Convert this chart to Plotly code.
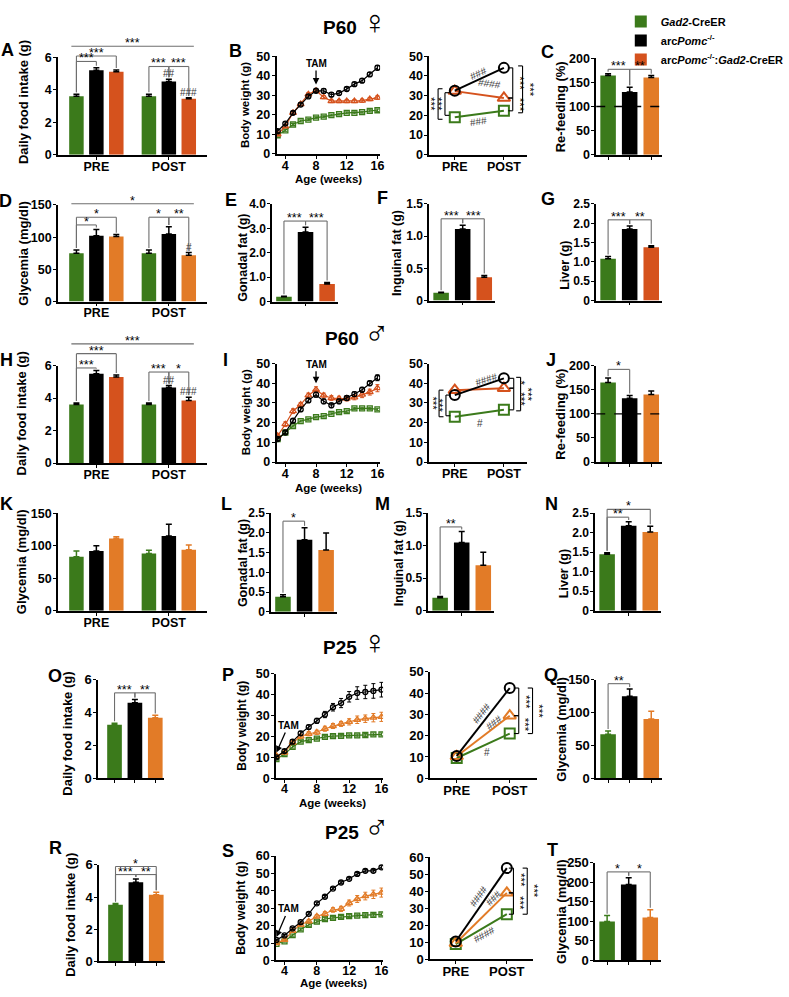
import plotly.graph_objects as go

# ======================= DATA =======================
genotypes = ["<i>Gad2</i>-CreER", "arc<i>Pomc</i><sup>-/-</sup>",
             "arc<i>Pomc</i><sup>-/-</sup>:<i>Gad2</i>-CreER"]
phases = ["PRE", "POST"]
weeks = [3, 4, 5, 6, 7, 8, 9, 10, 11, 12, 13, 14, 15, 16]
week_ticks = [4, 8, 12, 16]
tam_week_p60 = 8
tam_week_p25 = 3

# --- P60 female ---
A_pre = [3.6, 5.2, 5.1]
A_pre_err = [0.12, 0.15, 0.12]
A_post = [3.6, 4.5, 3.45]
A_post_err = [0.12, 0.15, 0.05]

B_green = [9.5, 12.0, 15.0, 16.8, 17.5, 18.5, 19.0, 19.8, 20.3, 21.0, 21.0, 21.3, 22.0, 22.3]
B_orange = [10.0, 14.0, 21.0, 25.5, 30.5, 32.3, 29.0, 27.0, 27.0, 27.0, 27.0, 27.2, 28.0, 28.8]
B_black = [11.6, 15.5, 21.0, 25.2, 29.4, 32.3, 32.2, 30.3, 31.1, 33.2, 35.7, 37.5, 40.7, 44.1]
B_green_err = [0.5, 0.5, 0.5, 0.5, 0.5, 0.5, 0.5, 0.5, 0.5, 0.5, 0.5, 0.5, 0.6, 0.6]
B_orange_err = [0.5, 0.6, 0.6, 0.8, 0.8, 0.8, 0.8, 0.8, 0.8, 0.8, 0.8, 0.8, 0.8, 0.9]
B_black_err = [0.8, 0.8, 0.8, 0.8, 0.8, 1.0, 1.2, 1.0, 1.0, 1.0, 1.0, 1.0, 1.0, 1.2]
Bp_green = [19.0, 22.3]
Bp_black = [32.5, 44.1]
Bp_orange = [32.3, 28.8]

C_val = [164, 130, 160]
C_err = [4, 10, 4]

D_pre = [75, 102, 101]
D_pre_err = [5, 10, 3]
D_post = [75, 105, 72]
D_post_err = [5, 11, 4]

E_val = [0.2, 2.85, 0.72]
E_err = [0.02, 0.2, 0.06]
F_val = [0.12, 1.11, 0.36]
F_err = [0.01, 0.06, 0.03]
G_val = [1.08, 1.85, 1.38]
G_err = [0.06, 0.08, 0.04]

# --- P60 male ---
H_pre = [3.6, 5.5, 5.3]
H_pre_err = [0.1, 0.2, 0.12]
H_post = [3.6, 4.65, 3.85]
H_post_err = [0.1, 0.12, 0.2]

I_green = [11.7, 15.0, 18.3, 20.8, 21.7, 22.8, 23.3, 24.5, 25.3, 25.8, 27.2, 27.2, 27.2, 26.7]
I_orange = [13.3, 19.2, 25.8, 29.2, 33.8, 36.7, 33.8, 32.5, 32.2, 32.2, 32.8, 34.2, 35.5, 37.5]
I_black = [11.7, 15.0, 21.0, 26.7, 31.3, 34.2, 30.8, 28.8, 30.8, 32.5, 34.5, 36.7, 40.0, 42.8]
I_green_err = [0.5, 0.5, 0.5, 0.5, 0.5, 0.5, 0.5, 0.5, 0.5, 0.6, 0.6, 0.6, 0.6, 0.6]
I_orange_err = [0.8, 1.2, 1.2, 1.0, 1.2, 1.5, 1.2, 1.2, 1.2, 1.2, 1.2, 1.5, 1.5, 1.8]
I_black_err = [0.8, 0.8, 1.0, 1.0, 1.0, 1.2, 1.2, 1.2, 1.2, 1.2, 1.2, 1.2, 1.2, 1.5]
Ip_green = [23.0, 26.5]
Ip_black = [34.0, 42.5]
Ip_orange = [36.5, 37.5]

J_val = [165, 132, 140]
J_err = [9, 6, 7]

K_pre = [83, 92, 111]
K_pre_err = [9, 8, 3]
K_post = [88, 115, 94]
K_post_err = [5, 18, 7]

L_val = [0.38, 1.83, 1.57]
L_err = [0.05, 0.3, 0.43]
M_val = [0.2, 1.05, 0.7]
M_err = [0.02, 0.17, 0.2]
N_val = [1.45, 2.18, 2.02]
N_err = [0.04, 0.1, 0.15]

# --- P25 female ---
O_val = [3.25, 4.6, 3.68]
O_err = [0.1, 0.2, 0.15]

P_green = [9.2, 11.5, 15.0, 17.5, 18.2, 19.0, 19.8, 20.2, 20.3, 20.5, 20.5, 20.7, 21.0, 21.0]
P_orange = [10.8, 12.3, 17.0, 20.0, 21.3, 22.0, 23.7, 25.0, 26.0, 27.0, 28.0, 28.5, 29.0, 29.4]
P_black = [10.0, 13.0, 17.5, 21.5, 24.5, 27.5, 30.5, 34.0, 36.0, 39.0, 40.8, 41.3, 41.8, 42.4]
P_green_err = [0.4, 0.5, 0.6, 0.6, 0.6, 0.6, 0.6, 0.6, 0.6, 0.7, 0.7, 0.7, 0.7, 0.7]
P_orange_err = [0.5, 0.6, 0.8, 1.0, 1.0, 1.0, 1.2, 1.2, 1.2, 1.5, 1.8, 1.8, 2.0, 2.2]
P_black_err = [0.6, 0.8, 1.0, 1.0, 1.0, 1.2, 1.5, 1.8, 2.2, 2.5, 3.0, 3.2, 3.5, 3.5]
Pp_green = [9.5, 21.0]
Pp_black = [10.5, 42.4]
Pp_orange = [10.3, 29.4]

Q_val = [67, 125, 90]
Q_err = [5, 11, 12]

# --- P25 male ---
R_val = [3.52, 4.92, 4.15]
R_err = [0.08, 0.2, 0.15]

S_green = [9.5, 11.0, 14.5, 17.8, 20.5, 22.3, 23.8, 24.5, 25.0, 25.5, 25.8, 26.0, 26.2, 26.5]
S_orange = [10.0, 11.8, 17.0, 20.5, 22.5, 25.3, 26.8, 29.0, 29.6, 33.0, 35.3, 37.0, 38.0, 39.0]
S_black = [11.8, 14.4, 18.4, 22.0, 26.8, 32.8, 36.6, 41.3, 44.8, 46.9, 49.7, 51.5, 51.5, 53.5]
S_green_err = [0.4, 0.5, 0.6, 0.7, 0.8, 0.8, 0.8, 0.8, 0.8, 0.8, 0.8, 0.8, 0.8, 0.8]
S_orange_err = [0.5, 0.5, 0.8, 0.9, 1.0, 1.0, 1.2, 1.3, 1.5, 1.7, 2.0, 2.2, 2.4, 2.6]
S_black_err = [0.5, 0.5, 0.6, 0.6, 0.6, 0.7, 0.7, 0.7, 0.7, 0.7, 0.8, 0.8, 0.8, 0.9]
Sp_green = [9.0, 26.5]
Sp_black = [10.5, 53.5]
Sp_orange = [9.5, 39.0]

T_val = [100, 195, 110]
T_err = [15, 17, 20]

# ======================= STYLE =======================
W, H = 789, 997
FONT = "Liberation Sans, Arial, Helvetica, sans-serif"
GREEN = "#3b7a1b"
BLACK = "#000000"
ORANGE = "#d5521d"
ORANGE_L = "#e27b27"
GREY = "#6e6e6e"
COL_DARK = [GREEN, BLACK, ORANGE]
COL_LIGHT = [GREEN, BLACK, ORANGE_L]
PITCH = 0.275
BW_G = 0.2
BW_S = 0.72

fig = go.Figure()
LAYOUT = {}
RANGES = {}
SHAPES = []
ANN = []


def ref(n, letter):
    return letter if n == 1 else f"{letter}{n}"


def add_axes(n, left, right, top, bottom, xr, yr, xtv, xtt, ytv, ytt, tsize=12.5, xstand=-4):
    common = dict(showline=True, linecolor="black", linewidth=1.6, ticks="outside",
                  ticklen=3, tickwidth=1.4, tickcolor="black", showgrid=False,
                  zeroline=False, fixedrange=True,
                  tickfont=dict(family=FONT, size=tsize, color="black", weight="bold"))
    xa = "xaxis" if n == 1 else f"xaxis{n}"
    ya = "yaxis" if n == 1 else f"yaxis{n}"
    LAYOUT[xa] = dict(common, domain=[left / W, right / W], range=xr, anchor=ref(n, "y"),
                      tickmode="array", tickvals=xtv, ticktext=xtt, ticklabelstandoff=xstand)
    LAYOUT[ya] = dict(common, domain=[1 - bottom / H, 1 - top / H], range=yr,
                      anchor=ref(n, "x"), tickmode="array", tickvals=ytv, ticktext=ytt,
                      ticklabelstandoff=-1)
    RANGES[n] = (xr, yr)


def fx(n, x):
    r = RANGES[n][0]
    return (x - r[0]) / (r[1] - r[0])


def fy(n, y):
    r = RANGES[n][1]
    return (y - r[0]) / (r[1] - r[0])


def seg(n, x0, y0, x1, y1, color=GREY, width=1.1, dash=None):
    SHAPES.append(dict(type="line", xref=f"{ref(n, 'x')} domain", yref=f"{ref(n, 'y')} domain",
                       x0=fx(n, x0), y0=fy(n, y0), x1=fx(n, x1), y1=fy(n, y1),
                       line=dict(color=color, width=width, dash=dash)))


def txt(n, x, y, s, size=12, color="black", angle=0, xanchor="center", yanchor="bottom",
        xshift=0, yshift=0):
    ANN.append(dict(xref=f"{ref(n, 'x')} domain", yref=f"{ref(n, 'y')} domain",
                    x=fx(n, x), y=fy(n, y), text=s, showarrow=False, textangle=angle,
                    font=dict(family=FONT, size=size, color=color),
                    xanchor=xanchor, yanchor=yanchor, xshift=xshift, yshift=yshift))


def bracket(n, x1, x2, h, top1=None, top2=None, s=""):
    yr = RANGES[n][1]
    g = 0.02 * (yr[1] - yr[0])
    seg(n, x1, h, x2, h)
    if top1 is not None:
        seg(n, x1, top1 + g, x1, h)
    if top2 is not None:
        seg(n, x2, top2 + g, x2, h)
    if s:
        txt(n, (x1 + x2) / 2, h, s, size=12.5, yshift=-6)


def vbracket(n, x, y1, y2, s, side, tick=0.09):
    seg(n, x, y1, x, y2, color="black", width=1.1)
    seg(n, x, y1, x - side * tick, y1, color="black", width=1.1)
    seg(n, x, y2, x - side * tick, y2, color="black", width=1.1)
    txt(n, x, (y1 + y2) / 2, s, size=11.5, angle=90, yanchor="middle", xshift=side * 7)


def hashes(n, x, y, s, angle=0, size=10):
    txt(n, x, y, s, size=size, color="#3a3a3a", angle=angle, yanchor="middle")


def gx(group, geno):
    return group + (geno - 1) * PITCH


def grouped_bars(n, pre, pre_err, post, post_err, colors, ecolors, legend=False):
    for i in range(3):
        fig.add_trace(go.Bar(
            x=[gx(0, i), gx(1, i)], y=[pre[i], post[i]], width=[BW_G, BW_G],
            marker=dict(color=colors[i], line=dict(width=0)),
            error_y=dict(type="data", symmetric=False, array=[pre_err[i], post_err[i]],
                         arrayminus=[0, 0], color=ecolors[i], thickness=1.5, width=3),
            xaxis=ref(n, "x"), yaxis=ref(n, "y"), name=genotypes[i],
            showlegend=legend, hoverinfo="skip"))


def single_bars(n, vals, errs, colors, ecolors):
    for i in range(3):
        fig.add_trace(go.Bar(
            x=[i], y=[vals[i]], width=[BW_S],
            marker=dict(color=colors[i], line=dict(width=0)),
            error_y=dict(type="data", symmetric=False, array=[errs[i]], arrayminus=[0],
                         color=ecolors[i], thickness=1.5, width=3),
            xaxis=ref(n, "x"), yaxis=ref(n, "y"), showlegend=False, hoverinfo="skip"))


SYMS = ["square-open", "circle-open", "triangle-up-open"]


def time_lines(n, series, errs, colors):
    for i in [0, 2, 1]:
        fig.add_trace(go.Scatter(
            x=weeks, y=series[i], mode="lines+markers",
            line=dict(color=colors[i], width=1.2),
            marker=dict(symbol=SYMS[i], size=5 if i != 2 else 6, color=colors[i],
                        line=dict(width=1.3, color=colors[i])),
            error_y=dict(type="data", array=errs[i], color=colors[i], thickness=1, width=2),
            xaxis=ref(n, "x"), yaxis=ref(n, "y"), showlegend=False, hoverinfo="skip"))


def prepost_lines(n, series, colors):
    for i in [0, 2, 1]:
        fig.add_trace(go.Scatter(
            x=[0, 1], y=series[i], mode="lines+markers",
            line=dict(color=colors[i], width=2),
            marker=dict(symbol=SYMS[i], size=10 if i != 2 else 11, color=colors[i],
                        line=dict(width=2, color=colors[i])),
            xaxis=ref(n, "x"), yaxis=ref(n, "y"), showlegend=False, hoverinfo="skip",
            cliponaxis=False))


def tops(v, e):
    return [a + b for a, b in zip(v, e)]


GRP_XR = [-0.53, 1.53]
SGL_XR = [-0.55, 2.5]
SGL_XR2 = [-0.8, 2.43]
WK_XR1 = [2.85, 16.35]
WK_XR2 = [2.95, 16.2]
PP_XR = [-0.52, 1.48]
PP_XR2 = [-0.5, 1.52]
t6 = ([0, 2, 4, 6], ["0", "2", "4", "6"])
t50 = ([0, 10, 20, 30, 40, 50], ["0", "10", "20", "30", "40", "50"])
t60 = ([0, 10, 20, 30, 40, 50, 60], ["0", "10", "20", "30", "40", "50", "60"])
t200 = ([0, 50, 100, 150, 200], ["0", "50", "100", "150", "200"])
t150 = ([0, 50, 100, 150], ["0", "50", "100", "150"])
t250 = ([0, 50, 100, 150, 200, 250], ["0", "50", "100", "150", "200", "250"])
t4 = ([0, 1, 2, 3, 4], ["0", "1.0", "2.0", "3.0", "4.0"])
t15 = ([0, 0.5, 1.0, 1.5], ["0", "0.5", "1.0", "1.5"])
t25 = ([0, 0.5, 1.0, 1.5, 2.0, 2.5], ["0", "0.5", "1.0", "1.5", "2.0", "2.5"])
grp_x = ([0, 1], phases)
wk_x = (week_ticks, [str(w) for w in week_ticks])
pp_x = ([0, 1], phases)
three_x = ([0, 1, 2], ["", "", ""])
mid_x = ([1], [""])

# ======================= ROW 1 : P60 female =======================
add_axes(1, 59, 211, 51, 150, GRP_XR, [0, 6], *grp_x, *t6)
grouped_bars(1, A_pre, A_pre_err, A_post, A_post_err, COL_DARK, [BLACK] * 3, legend=True)
tp, tq = tops(A_pre, A_pre_err), tops(A_post, A_post_err)
bracket(1, gx(0, 0), gx(0, 1), 5.74, tp[0], tp[1], "***")
bracket(1, gx(0, 0), gx(0, 2), 6.08, tp[0], tp[2], "***")
bracket(1, gx(0, 0) - 0.07, gx(1, 2) + 0.07, 6.68, None, None, "***")
bracket(1, gx(1, 0), gx(1, 1), 5.43, tq[0], tq[1], "***")
bracket(1, gx(1, 1), gx(1, 2), 5.43, tq[1], tq[2], "***")
txt(1, gx(1, 1), tq[1], "##", size=10, color="#3a3a3a", yshift=-2)
txt(1, gx(1, 2), tq[2], "###", size=10, color="#3a3a3a", yshift=-2)

add_axes(2, 281.5, 387, 50, 149, WK_XR1, [0, 50], *wk_x, *t50)
time_lines(2, [B_green, B_black, B_orange], [B_green_err, B_black_err, B_orange_err], COL_DARK)

add_axes(3, 437, 537, 50, 150, PP_XR, [0, 50], *pp_x, *t50)
prepost_lines(3, [Bp_green, Bp_black, Bp_orange], COL_DARK)
vbracket(3, -0.34, Bp_green[0] - 1, Bp_black[0] + 1, "***", -1)
vbracket(3, -0.2, Bp_green[0] + 1, Bp_black[0] - 1, "***", -1)
vbracket(3, 1.18, Bp_green[1], Bp_orange[1], "***", 1)
vbracket(3, 1.18, Bp_orange[1], Bp_black[1], "***", 1)
vbracket(3, 1.38, Bp_green[1] - 1, Bp_black[1] + 1, "***", 1)
hashes(3, 0.48, 41, "###", angle=-25)
hashes(3, 0.7, 36, "####", angle=8)
hashes(3, 0.48, 17, "###", angle=-8)

add_axes(4, 607, 674, 52, 150, SGL_XR, [0, 200], *three_x, *t200)
single_bars(4, C_val, C_err, [GREEN, BLACK, ORANGE_L], [BLACK] * 3)
SHAPES.append(dict(type="line", xref="x4 domain", yref="y4 domain", x0=0, x1=1,
                   y0=fy(4, 100), y1=fy(4, 100), line=dict(color="black", width=1.3, dash="dash")))
tc = tops(C_val, C_err)
bracket(4, 0, 1, 177, tc[0], tc[1], "***")
bracket(4, 1, 2, 177, tc[1], tc[2], "**")

# ======================= ROW 2 =======================
add_axes(5, 59, 211, 201, 299, GRP_XR, [0, 150], *grp_x, *t150)
grouped_bars(5, D_pre, D_pre_err, D_post, D_post_err, COL_LIGHT, [BLACK] * 3)
tp, tq = tops(D_pre, D_pre_err), tops(D_post, D_post_err)
bracket(5, gx(0, 0), gx(0, 1), 119, tp[0], tp[1], "*")
bracket(5, gx(0, 0), gx(0, 2), 131, tp[0], tp[2], "*")
bracket(5, gx(0, 0) - 0.07, gx(1, 2) + 0.07, 152, None, None, "*")
bracket(5, gx(1, 0), gx(1, 1), 131, tq[0], tq[1], "*")
bracket(5, gx(1, 1), gx(1, 2), 131, tq[1], tq[2], "**")
txt(5, gx(1, 2), tq[2], "#", size=10, color="#3a3a3a", yshift=-2)

add_axes(6, 277, 344, 200, 299, SGL_XR, [0, 4], *mid_x, *t4, tsize=12)
single_bars(6, E_val, E_err, COL_DARK, [BLACK] * 3)
te = tops(E_val, E_err)
bracket(6, 0, 1, 3.3, te[0], te[1], "***")
bracket(6, 1, 2, 3.3, te[1], te[2], "***")

add_axes(7, 437, 504, 200, 298, SGL_XR, [0, 1.5], *mid_x, *t15, tsize=12)
single_bars(7, F_val, F_err, COL_DARK, [BLACK] * 3)
tf = tops(F_val, F_err)
bracket(7, 0, 1, 1.27, tf[0], tf[1], "***")
bracket(7, 1, 2, 1.27, tf[1], tf[2], "***")

add_axes(8, 607, 674, 200, 298, SGL_XR, [0, 2.5], *mid_x, *t25, tsize=12)
single_bars(8, G_val, G_err, COL_DARK, [BLACK] * 3)
tg = tops(G_val, G_err)
bracket(8, 0, 1, 2.09, tg[0], tg[1], "***")
bracket(8, 1, 2, 2.09, tg[1], tg[2], "**")

# ======================= ROW 3 : P60 male =======================
add_axes(9, 59, 211, 364, 463, GRP_XR, [0, 6], *grp_x, *t6)
grouped_bars(9, H_pre, H_pre_err, H_post, H_post_err, COL_DARK, [BLACK] * 3)
tp, tq = tops(H_pre, H_pre_err), tops(H_post, H_post_err)
bracket(9, gx(0, 0), gx(0, 1), 5.85, tp[0], tp[1], "***")
bracket(9, gx(0, 0), gx(0, 2), 6.73, tp[0], tp[2], "***")
bracket(9, gx(0, 0) - 0.07, gx(1, 2) + 0.07, 7.33, None, None, "***")
bracket(9, gx(1, 0), gx(1, 1), 5.6, tq[0], tq[1], "***")
bracket(9, gx(1, 1), gx(1, 2), 5.6, tq[1], tq[2], "*")
txt(9, gx(1, 1), tq[1], "##", size=10, color="#3a3a3a", yshift=-2)
txt(9, gx(1, 2), tq[2], "###", size=10, color="#3a3a3a", yshift=-2)

add_axes(10, 281.5, 387, 362, 462, WK_XR1, [0, 50], *wk_x, *t50)
time_lines(10, [I_green, I_black, I_orange], [I_green_err, I_black_err, I_orange_err], COL_DARK)

add_axes(11, 437, 537, 362, 462, PP_XR, [0, 50], *pp_x, *t50)
prepost_lines(11, [Ip_green, Ip_black, Ip_orange], COL_DARK)
vbracket(11, -0.32, Ip_green[0], Ip_orange[0], "***", -1)
vbracket(11, -0.18, Ip_green[0] + 0.5, Ip_black[0], "***", -1)
vbracket(11, 1.2, Ip_orange[1], Ip_black[1], "*", 1)
vbracket(11, 1.2, Ip_green[1], Ip_orange[1], "***", 1)
vbracket(11, 1.34, Ip_green[1] - 0.5, Ip_black[1] + 0.5, "***", 1)
hashes(11, 0.64, 42, "####", angle=-18)
hashes(11, 0.52, 19.5, "#")

add_axes(12, 607, 674, 364, 462, SGL_XR, [0, 200], *three_x, *t200)
single_bars(12, J_val, J_err, [GREEN, BLACK, ORANGE_L], [BLACK] * 3)
SHAPES.append(dict(type="line", xref="x12 domain", yref="y12 domain", x0=0, x1=1,
                   y0=fy(12, 100), y1=fy(12, 100), line=dict(color="black", width=1.3, dash="dash")))
tj = tops(J_val, J_err)
bracket(12, 0, 1, 192, tj[0], tj[1], "*")

# ======================= ROW 4 =======================
add_axes(13, 59, 211, 514, 613, GRP_XR, [0, 150], *grp_x, *t150)
grouped_bars(13, K_pre, K_pre_err, K_post, K_post_err, COL_LIGHT, COL_LIGHT)

add_axes(14, 276, 343, 514, 614, SGL_XR, [0, 2.5], *mid_x, *t25, tsize=12)
single_bars(14, L_val, L_err, COL_LIGHT, [BLACK] * 3)
tl = tops(L_val, L_err)
bracket(14, 0, 1, 2.3, tl[0], tl[1], "*")

add_axes(15, 436, 503, 514, 613, SGL_XR, [0, 1.5], *mid_x, *t15, tsize=12)
single_bars(15, M_val, M_err, COL_LIGHT, [BLACK] * 3)
tm = tops(M_val, M_err)
bracket(15, 0, 1, 1.29, tm[0], tm[1], "**")

add_axes(16, 606, 673, 514, 613, SGL_XR, [0, 2.5], *mid_x, *t25, tsize=12)
single_bars(16, N_val, N_err, COL_LIGHT, [BLACK] * 3)
tn = tops(N_val, N_err)
bracket(16, 0, 1, 2.4, tn[0], tn[1], "**")
bracket(16, 0, 2, 2.6, tn[0], tn[2], "*")

# ======================= ROW 5 : P25 female =======================
add_axes(17, 100, 167, 683, 783, SGL_XR2, [0, 6], *three_x, *t6, tsize=13)
single_bars(17, O_val, O_err, COL_LIGHT, COL_LIGHT)
to = tops(O_val, O_err)
bracket(17, 0, 1, 5.2, to[0], to[1], "***")
bracket(17, 1, 2, 5.2, to[1], to[2], "**")

add_axes(18, 281, 390, 677, 783, WK_XR2, [0, 50], *wk_x, *t50, tsize=12.5, xstand=-5)
time_lines(18, [P_green, P_black, P_orange], [P_green_err, P_black_err, P_orange_err], COL_LIGHT)

add_axes(19, 438, 547, 675, 783, PP_XR2, [0, 50], *pp_x, *t50, tsize=13)
prepost_lines(19, [Pp_green, Pp_black, Pp_orange], COL_LIGHT)
vbracket(19, 1.17, Pp_green[1], Pp_orange[1], "***", 1)
vbracket(19, 1.17, Pp_orange[1], Pp_black[1], "***", 1)
vbracket(19, 1.43, Pp_green[1], Pp_black[1], "***", 1)
hashes(19, 0.46, 30.5, "####", angle=-52)
hashes(19, 0.7, 26.4, "###", angle=-37)
hashes(19, 0.57, 12, "#")

add_axes(20, 607, 674, 683, 783, SGL_XR, [0, 150], *three_x, *t150, tsize=13)
single_bars(20, Q_val, Q_err, COL_LIGHT, COL_LIGHT)
tqq = tops(Q_val, Q_err)
bracket(20, 0, 1, 144, tqq[0], tqq[1], "**")

# ======================= ROW 6 : P25 male =======================
add_axes(21, 101, 168, 871, 969, SGL_XR2, [0, 6], *three_x, *t6, tsize=13)
single_bars(21, R_val, R_err, COL_LIGHT, COL_LIGHT)
tr = tops(R_val, R_err)
bracket(21, 0, 1, 5.4, tr[0], tr[1], "***")
bracket(21, 1, 2, 5.4, tr[1], tr[2], "**")
bracket(21, 0, 2, 5.9, tr[0], tr[2], "*")

add_axes(22, 281, 390, 862, 968, WK_XR2, [0, 60], *wk_x, *t60, tsize=12.5, xstand=-5)
time_lines(22, [S_green, S_black, S_orange], [S_green_err, S_black_err, S_orange_err], COL_LIGHT)

add_axes(23, 438, 543, 863, 967, PP_XR2, [0, 60], *pp_x, *t60, tsize=13)
prepost_lines(23, [Sp_green, Sp_black, Sp_orange], COL_LIGHT)
vbracket(23, 1.13, Sp_green[1], Sp_orange[1], "***", 1)
vbracket(23, 1.13, Sp_orange[1], Sp_black[1], "***", 1)
vbracket(23, 1.4, Sp_green[1], Sp_black[1], "***", 1)
hashes(23, 0.44, 37, "####", angle=-55)
hashes(23, 0.73, 35.8, "###", angle=-45)
hashes(23, 0.56, 14.4, "####", angle=-29)

add_axes(24, 606, 673, 869, 968, SGL_XR, [0, 250], *three_x, *t250, tsize=13)
single_bars(24, T_val, T_err, COL_LIGHT, COL_LIGHT)
tt = tops(T_val, T_err)
bracket(24, 0, 1, 227, tt[0], tt[1], "*")
bracket(24, 1, 2, 227, tt[1], tt[2], "*")

# ======================= TAM arrows =======================
def tam(n, x, y, ax, ay):
    ANN.append(dict(xref=ref(n, "x"), yref=ref(n, "y"), x=x, y=y, ax=ax, ay=ay,
                    text="<b>TAM</b>", showarrow=True, arrowhead=2, arrowsize=1,
                    arrowwidth=1.3, arrowcolor="black", standoff=0,
                    font=dict(family=FONT, size=10, color="black")))


tam(2, tam_week_p60, 35.5, 0, -21)
tam(10, tam_week_p60, 40, 0, -19)
tam(18, tam_week_p25, 12.3, 12, -27)
tam(22, tam_week_p25, 13.5, 12, -28)

# ======================= labels =======================
def paper_text(x, y, s, size=13, angle=0, xanchor="center"):
    ANN.append(dict(xref="paper", yref="paper", x=x / W, y=1 - y / H, text=s,
                    showarrow=False, textangle=angle, xanchor=xanchor, yanchor="middle",
                    font=dict(family=FONT, size=size, color="black", weight="bold")))


ytitles = [
    (24, 97, "Daily food intake (g)", 13), (250, 100, "Body weight (g)", 11.5),
    (571, 101, "Re-feeding (%)", 13), (24, 250, "Glycemia (mg/dl)", 13),
    (248, 255, "Gonadal fat (g)", 12.5), (404, 250, "Inguinal fat (g)", 12.5),
    (575, 262, "Liver (g)", 12.5), (22, 413, "Daily food intake (g)", 13),
    (250, 412, "Body weight (g)", 11.5), (571, 413, "Re-feeding (%)", 13),
    (22, 563, "Glycemia (mg/dl)", 13), (248, 565, "Gonadal fat (g)", 12.5),
    (407, 565, "Inguinal fat (g)", 12.5), (575, 575, "Liver (g)", 12.5),
    (69, 738, "Daily food intake (g)", 13), (246, 730, "Body weight (g)", 12),
    (572, 733, "Glycemia (mg/dl)", 13), (71, 922, "Daily food intake (g)", 13),
    (246, 915, "Body weight (g)", 12.5), (571, 918, "Glycemia (mg/dl)", 13),
]
for x, y, s, fs in ytitles:
    paper_text(x, y, s, size=fs, angle=-90)

for x, y in [(334, 175), (334, 488), (338, 808), (340, 991)]:
    paper_text(x, y, "Age (weeks)", size=11.5)

letters = [("A", 8, 44), ("B", 240, 45), ("C", 557, 46), ("D", 6, 197), ("E", 235, 196),
           ("F", 389, 194), ("G", 558, 195), ("H", 7, 358), ("I", 230, 358), ("J", 561, 358),
           ("K", 7, 505), ("L", 231, 505), ("M", 389, 505), ("N", 561, 505), ("O", 56, 679),
           ("P", 232, 678), ("Q", 561, 678), ("R", 56, 854), ("S", 232, 857), ("T", 562, 856)]
for s, x, y in letters:
    paper_text(x, y, s, size=18)

FEM, MAL = "\u2640", "\u2642"
for x, y, s in [(362, 15, "P60 " + FEM), (364, 331, "P60 " + MAL),
                (362, 645, "P25 " + FEM), (364, 833, "P25 " + MAL)]:
    head, sym = s.split(" ")
    paper_text(x, y, head + ' <span style="font-size:34px;font-weight:normal">' + sym + "</span>",
               size=19)

fig.update_layout(
    width=W, height=H, margin=dict(l=0, r=0, t=0, b=0),
    paper_bgcolor="white", plot_bgcolor="white", barmode="overlay",
    showlegend=True,
    legend=dict(x=632 / W, y=1.0, xanchor="left", yanchor="top", bgcolor="rgba(0,0,0,0)",
                font=dict(family=FONT, size=11, color="black", weight="bold"),
                itemwidth=30, tracegroupgap=0, traceorder="normal"),
    shapes=SHAPES, annotations=ANN, **LAYOUT)

fig.write_html("out.html", config={"displayModeBar": False},
               post_script="document.body.style.margin='0px';")
